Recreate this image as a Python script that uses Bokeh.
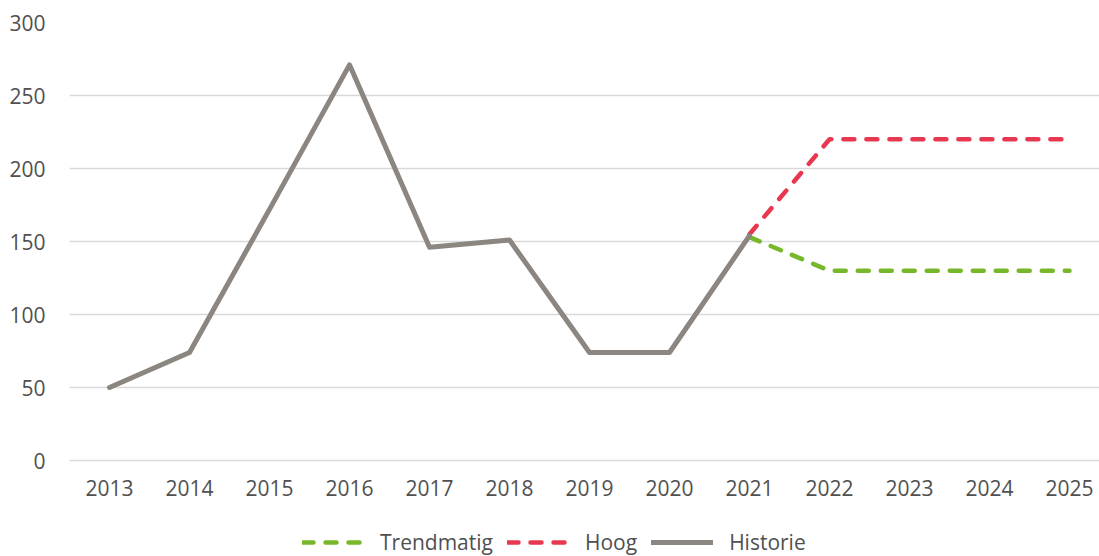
from bokeh.plotting import figure
from bokeh.models import Legend, LegendItem, FixedTicker, Range1d
from bokeh.embed import file_html
from bokeh.resources import INLINE

years = [2013, 2014, 2015, 2016, 2017, 2018, 2019, 2020, 2021, 2022, 2023, 2024, 2025]
hist_years = [2013, 2014, 2015, 2016, 2017, 2018, 2019, 2020, 2021]
historie = [50, 74, 172, 271, 146, 151, 74, 74, 154]
proj_years = [2021, 2022, 2023, 2024, 2025]
trendmatig = [153, 130, 130, 130, 130]
hoog = [155, 220, 220, 220, 220]
y_ticks = [0, 50, 100, 150, 200, 250, 300]

FONT = "Open Sans"
TXT = "#505050"

# frame runs from y=22 to the bottom of the window; values 0..300 take 438 px
p = figure(frame_width=1030, frame_height=534, output_backend="svg", toolbar_location=None,
           x_range=Range1d(2012.5, 2025.375), y_range=Range1d(-65.75, 300),
           min_border_left=69, min_border_right=0, min_border_top=22, min_border_bottom=0)
p.outline_line_color = None
p.background_fill_color = "white"
p.border_fill_color = "white"

r_trend = p.line(proj_years, trendmatig, line_color="#76B82A", line_width=4.5,
                 line_dash="11 12", line_cap="round")
r_hoog = p.line(proj_years, hoog, line_color="#E8384F", line_width=4.5,
                line_dash="11 12", line_cap="round")
r_hist = p.line(hist_years, historie, line_color="#8C8681", line_width=5, line_join="round",
                line_cap="round")

p.xgrid.grid_line_color = None
p.ygrid.grid_line_color = "#D9D9D9"
p.ygrid.grid_line_width = 1.5
p.yaxis.ticker = FixedTicker(ticks=y_ticks)
p.xaxis.ticker = FixedTicker(ticks=years)
p.xaxis.fixed_location = 0

for ax in (p.xaxis[0], p.yaxis[0]):
    ax.axis_line_color = None
    ax.major_tick_line_color = None
    ax.minor_tick_line_color = None
    ax.major_tick_out = 0
    ax.major_tick_in = 0
    ax.major_label_text_font = FONT
    ax.major_label_text_font_size = "21px"
    ax.major_label_text_color = TXT
p.yaxis.major_label_standoff = 24
p.xaxis.major_label_standoff = 19

legend = Legend(items=[LegendItem(label="Trendmatig", renderers=[r_trend]),
                       LegendItem(label="Hoog", renderers=[r_hoog]),
                       LegendItem(label="Historie", renderers=[r_hist])],
                orientation="horizontal", location=(233, 0),
                label_text_font=FONT, label_text_font_size="21px", label_text_color=TXT,
                label_height=20, glyph_width=62, glyph_height=20, spacing=14, label_standoff=16,
                padding=0, margin=0, border_line_color=None, background_fill_alpha=0)
p.add_layout(legend, "center")

open("out.html", "w").write(file_html(p, INLINE))
